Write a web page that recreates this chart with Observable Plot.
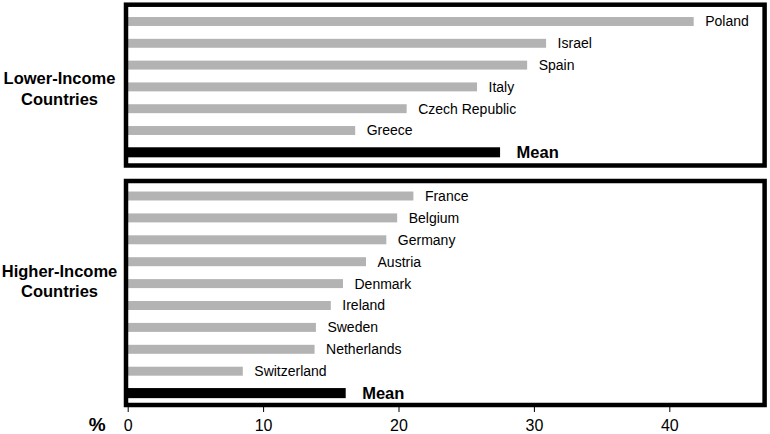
<!DOCTYPE html>
<html>
<head>
<meta charset="utf-8">
<script src="https://cdn.jsdelivr.net/npm/d3@7"></script>
<script src="https://cdn.jsdelivr.net/npm/@observablehq/plot@0.6"></script>
<style>
  html, body { margin: 0; padding: 0; background: #fff; }
  #chart svg { display: block; }
</style>
</head>
<body>
<div id="chart"></div>
<script>
// ---- data ----
const lowerCountries = ["Poland", "Israel", "Spain", "Italy", "Czech Republic", "Greece"];
const lowerValues = [41.8, 30.9, 29.5, 25.8, 20.6, 16.8];
const lowerMean = 27.5;

const higherCountries = ["France", "Belgium", "Germany", "Austria", "Denmark", "Ireland", "Sweden", "Netherlands", "Switzerland"];
const higherValues = [21.1, 19.9, 19.1, 17.6, 15.9, 15.0, 13.9, 13.8, 8.5];
const higherMean = 16.1;

const groupLabels = ["Lower-Income\nCountries", "Higher-Income\nCountries"];
const meanLabel = "Mean";
const xTicks = [0, 10, 20, 30, 40];
const xUnit = "%";

// ---- build ----
const FONT = "'Liberation Sans', Arial, Helvetica, sans-serif";
const GRAY = "#b3b3b3";

function rowsFor(names, values, mean) {
  const rows = names.map((n, i) => ({name: n, value: values[i], mean: false}));
  rows.push({name: meanLabel, value: mean, mean: true});
  return rows;
}

function panel(rows, label, opts) {
  const marks = [
    Plot.barX(rows.filter(d => !d.mean), {x: "value", y: "name", fill: GRAY}),
    Plot.barX(rows.filter(d => d.mean), {x: "value", y: "name", fill: "black", insetTop: -0.55, insetBottom: -0.55}),
    Plot.text(rows.filter(d => !d.mean), {x: "value", y: "name", text: "name", dx: 11, textAnchor: "start", fontSize: 14, fill: "black"}),
    Plot.text(rows.filter(d => d.mean), {x: "value", y: "name", text: "name", dx: 16, textAnchor: "start", fontSize: 16.5, fontWeight: "bold", fill: "black"}),
    Plot.frame({stroke: "black", strokeWidth: 4.5}),
    Plot.text([label], {text: d => d, frameAnchor: "left", dx: -66.5, dy: opts.labelDy, textAnchor: "middle", fontSize: 16.5, fontWeight: "bold", lineHeight: 1.22, fill: "black"})
  ];
  if (opts.axis) {
    marks.push(Plot.axisX({ticks: xTicks, tickSize: 7.5, tickPadding: 7.5, fontSize: 16, label: null, tickFormat: d => String(d)}));
    marks.push(Plot.text([xUnit], {text: d => d, frameAnchor: "bottom-left", dx: -28.8, dy: 20.2, textAnchor: "middle", lineAnchor: "middle", fontSize: 19, fontWeight: "bold", fill: "black"}));
  }
  return Plot.plot({
    width: 770,
    height: opts.height,
    marginLeft: 125.5,
    marginRight: 5.9,
    marginTop: opts.marginTop,
    marginBottom: opts.marginBottom,
    style: {fontFamily: FONT, color: "black", background: "white"},
    x: {domain: [0, 47], insetLeft: 2.2, axis: null},
    y: {domain: rows.map(d => d.name), paddingInner: 0.59, paddingOuter: 0.295, round: false, insetTop: opts.insetTop, insetBottom: opts.insetBottom, axis: null},
    marks
  });
}

const chart = document.getElementById("chart");
chart.appendChild(panel(rowsFor(lowerCountries, lowerValues, lowerMean), groupLabels[0],
  {height: 170, marginTop: 4.2, marginBottom: 5, insetTop: 6.4, insetBottom: 1.8, labelDy: 3, axis: false}));
chart.appendChild(panel(rowsFor(higherCountries, higherValues, higherMean), groupLabels[1],
  {height: 264, marginTop: 10.5, marginBottom: 29.5, insetTop: 4.55, insetBottom: 0.45, labelDy: -12.25, axis: true}));
</script>
</body>
</html>
